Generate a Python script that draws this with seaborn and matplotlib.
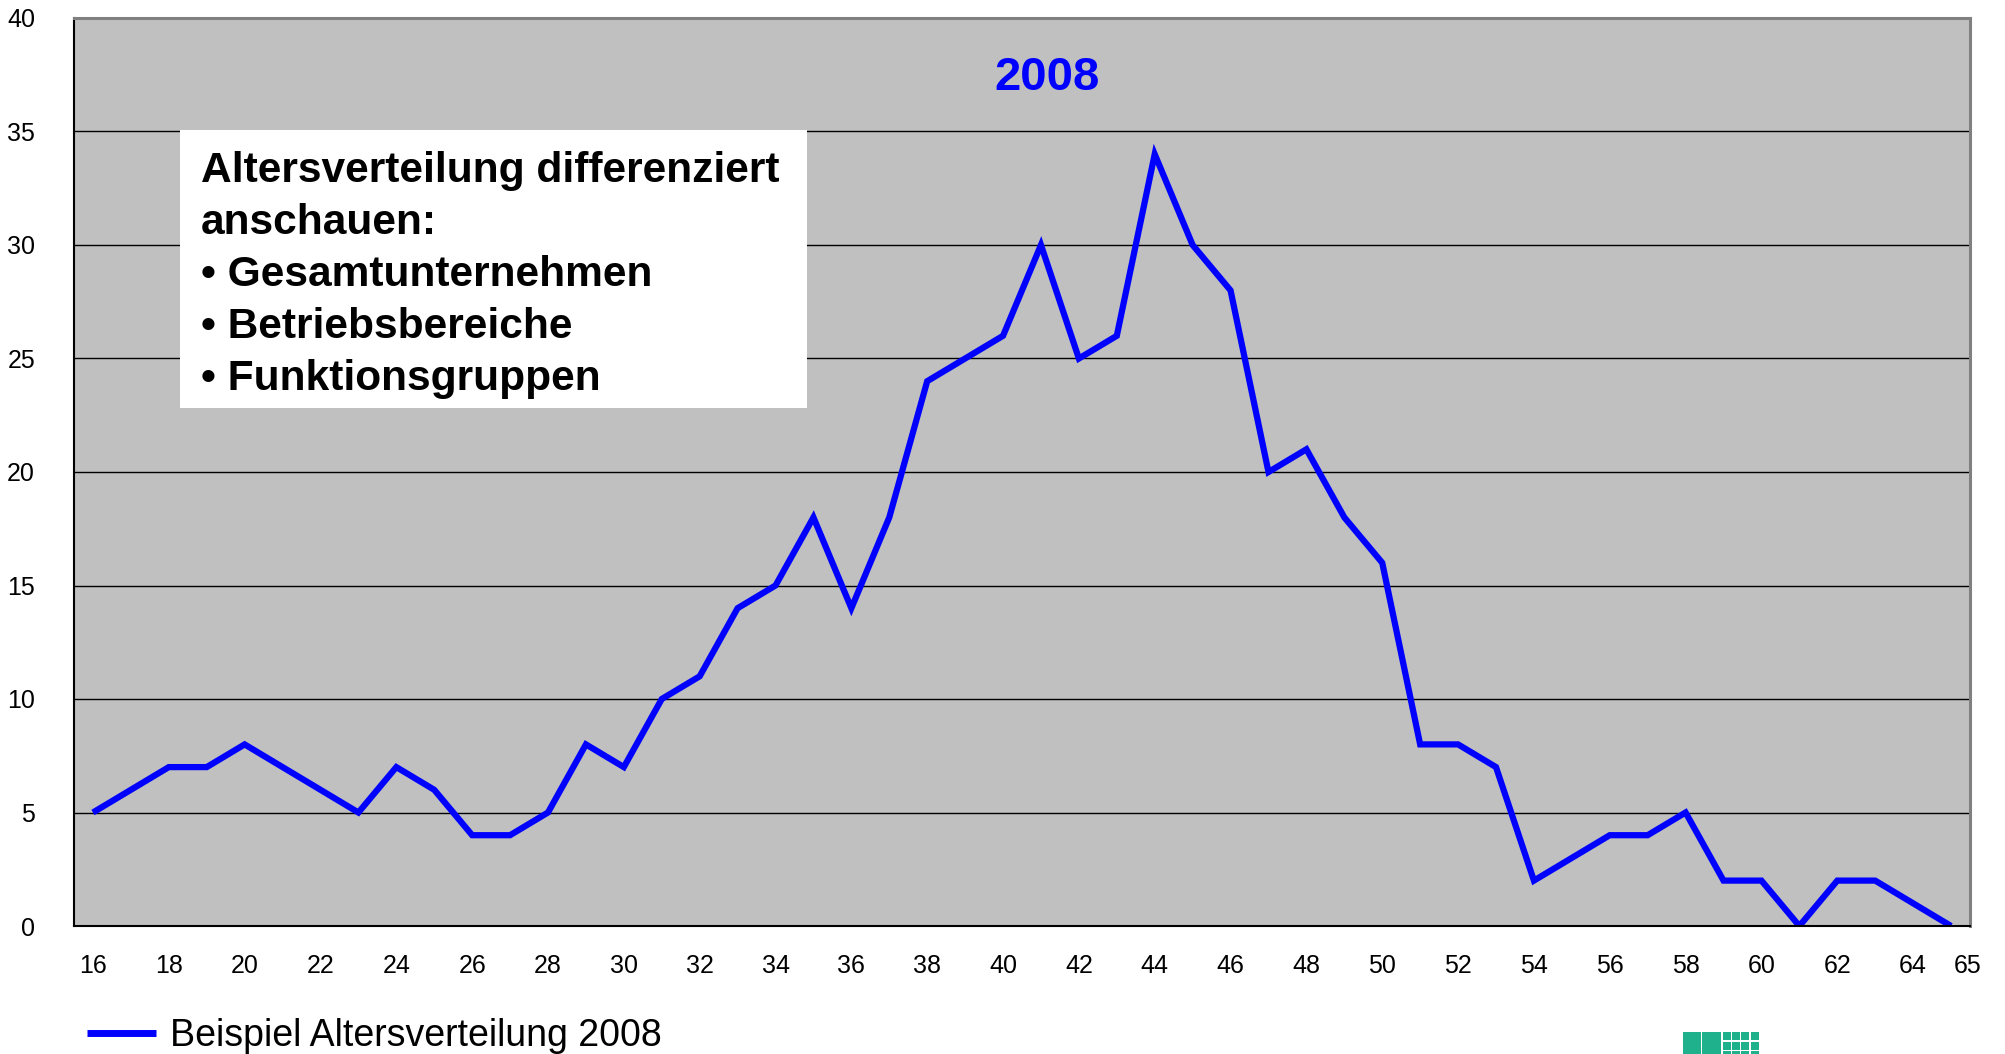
import matplotlib
matplotlib.use("Agg")
import matplotlib.pyplot as plt
from matplotlib.patches import Rectangle
import pandas as pd
import seaborn as sns

# Age categories and number of employees per age
ages = [16, 17, 18, 19, 20, 21, 22, 23, 24, 25,
        26, 27, 28, 29, 30, 31, 32, 33, 34, 35,
        36, 37, 38, 39, 40, 41, 42, 43, 44, 45,
        46, 47, 48, 49, 50, 51, 52, 53, 54, 55,
        56, 57, 58, 59, 60, 61, 62, 63, 64, 65]
counts = [5, 6, 7, 7, 8, 7, 6, 5, 7, 6,
          4, 4, 5, 8, 7, 10, 11, 14, 15, 18,
          14, 18, 24, 25, 26, 30, 25, 26, 34, 30,
          28, 20, 21, 18, 16, 8, 8, 7, 2, 3,
          4, 4, 5, 2, 2, 0, 2, 2, 1, 0]
series_label = "Beispiel Altersverteilung 2008"
title_text = "2008"
box_lines = ["Altersverteilung differenziert",
             "anschauen:",
             "\u2022 Gesamtunternehmen",
             "\u2022 Betriebsbereiche",
             "\u2022 Funktionsgruppen"]
xtick_labels = [str(a) for a in ages[::2]] + [str(ages[-1])]
yticks = [0, 5, 10, 15, 20, 25, 30, 35, 40]

sns.set_style("white")
plt.rcParams['font.family'] = ['Liberation Sans', 'DejaVu Sans']
plt.rcParams['text.color'] = 'black'
plt.rcParams['xtick.color'] = 'black'
plt.rcParams['ytick.color'] = 'black'

W, H = 2006, 1054
fig = plt.figure(figsize=(W / 100, H / 100), dpi=100)
ax = fig.add_axes([74 / W, 1 - 926 / H, (1970 - 74) / W, (926 - 18) / H])
ax.set_facecolor("#C0C0C0")

df = pd.DataFrame({"age": ages, "count": counts})
sns.lineplot(data=df, x="age", y="count", ax=ax, color="#0000FF", lw=4.5,
             label=series_label, legend=False)
ax.lines[0].set_solid_joinstyle("miter")
ax.lines[0].set_solid_capstyle("butt")

ax.set_xlim(ages[0] - 0.5, ages[-1] + 0.5)
ax.set_ylim(0, 40)
ax.set_xlabel("")
ax.set_ylabel("")

# y axis: grid lines + outward ticks
ax.set_yticks(yticks)
ax.set_yticklabels([str(v) for v in yticks], fontsize=18)
ax.yaxis.grid(True, color="black", lw=1.0)
ax.set_axisbelow(True)
ax.tick_params(axis="y", direction="out", length=8, width=1, color="black", pad=20)

# x axis: ticks between categories, labels centered on categories
ax.set_xticks([a - 0.5 for a in ages] + [ages[-1] + 0.5])
ax.set_xticklabels([])
ax.tick_params(axis="x", which="major", direction="out", length=8, width=1, color="black")
label_pos = ages[::2] + [ages[-1] + 0.45]
ax.set_xticks(label_pos, minor=True)
ax.set_xticklabels(xtick_labels, minor=True, fontsize=18)
ax.tick_params(axis="x", which="minor", length=0, pad=20)

for side in ["left", "bottom"]:
    ax.spines[side].set_color("black")
    ax.spines[side].set_linewidth(1.5)
for side in ["top", "right"]:
    ax.spines[side].set_color("#808080")
    ax.spines[side].set_linewidth(2.2)

# title inside the plot
fig.text(1047 / W, 1 - 78 / H, title_text, color="#0000FF", fontsize=34,
         fontweight="bold", ha="center", va="center")

# white note box
fig.patches.append(Rectangle((180 / W, 1 - 408 / H), (807 - 180) / W, (408 - 130) / H,
                             transform=fig.transFigure, facecolor="white",
                             edgecolor="none", zorder=3))
for i, line in enumerate(box_lines):
    fig.text(201 / W, 1 - (171 + i * 52) / H, line, fontsize=30.6, fontweight="bold",
             color="black", ha="left", va="center", zorder=4)

# legend at the bottom left
handles, labels = ax.get_legend_handles_labels()
fig.legend(handles, labels, loc="center left", bbox_to_anchor=(87 / W, 1 - 1036 / H),
           frameon=False, fontsize=27, handlelength=1.84, handletextpad=0.37,
           borderaxespad=0, borderpad=0)
for h in fig.legends[0].get_lines():
    h.set_linewidth(5)

# small green logo, cut off at the bottom edge
logo_green = "#1FB08C"
logo = [(1683, 1032, 18, 22), (1702, 1032, 19, 22)]
for xs in (1723, 1732, 1741, 1751):
    for ys in (1032, 1042, 1051):
        logo.append((xs, ys, 8, 8))
for x0, y0, w, h in logo:
    fig.patches.append(Rectangle((x0 / W, 1 - (y0 + h) / H), w / W, h / H,
                                 transform=fig.transFigure, facecolor=logo_green,
                                 edgecolor="none"))

fig.savefig("out.png", dpi=100, facecolor="white")
